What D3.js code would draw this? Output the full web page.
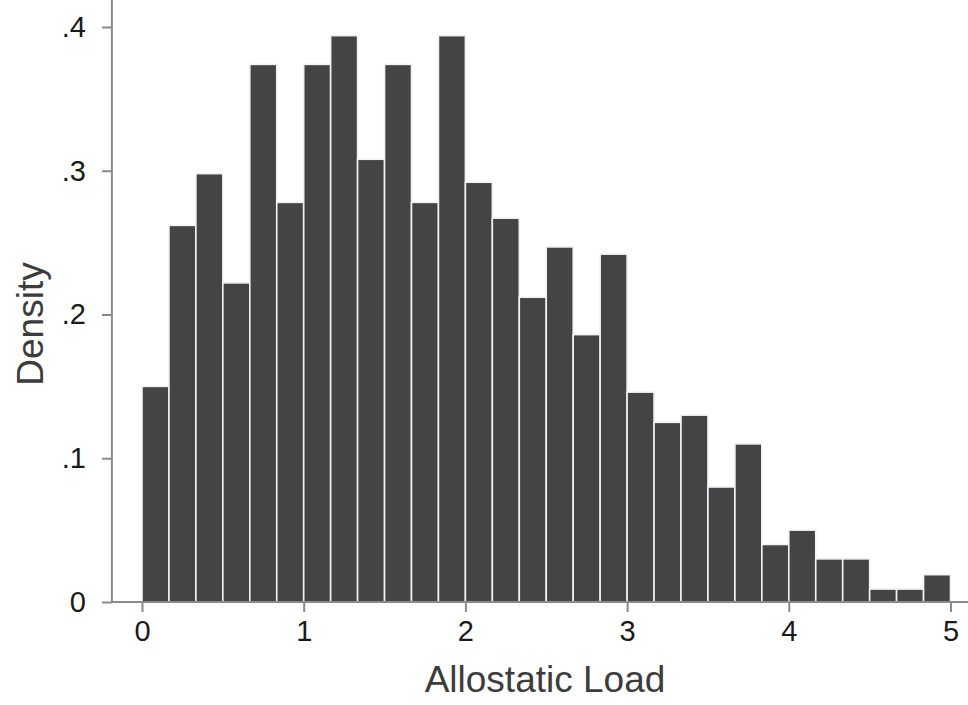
<!DOCTYPE html>
<html>
<head>
<meta charset="utf-8">
<script src="https://cdn.jsdelivr.net/npm/d3@7"></script>
<style>
  body { margin: 0; background: #fff; }
  text { font-family: "Liberation Sans", Arial, sans-serif; }
</style>
</head>
<body>
<div id="chart"></div>
<script>
// Histogram bins: 30 bins of width 1/6 from 0 to 5
let binStart = 0
let binWidth = 1 / 6
let densities = [0.150, 0.262, 0.298, 0.222, 0.374, 0.278, 0.374, 0.394, 0.308, 0.374,
                 0.278, 0.394, 0.292, 0.267, 0.212, 0.247, 0.186, 0.242, 0.146, 0.125,
                 0.130, 0.080, 0.110, 0.040, 0.050, 0.030, 0.030, 0.009, 0.009, 0.019]
let xTicks = [0, 1, 2, 3, 4, 5]
let yTicks = [0, 0.1, 0.2, 0.3, 0.4]
let yTickLabels = ["0", ".1", ".2", ".3", ".4"]

let width = 968
let height = 705

const svg = d3.select("#chart")
            .append("svg")
            .attr("width", width)
            .attr("height", height)

// Scales
let x = d3.scaleLinear().domain([0, 5]).range([142, 950.5])
let y = d3.scaleLinear().domain([0, 0.4]).range([602, 27])

let bins = densities.map((d, i) => ({x0: binStart + i * binWidth, x1: binStart + (i + 1) * binWidth, v: d}))

// Bars
svg.append("g")
   .selectAll("rect")
   .data(bins)
   .enter()
   .append("rect")
   .attr("x", d => x(d.x0))
   .attr("y", d => y(d.v))
   .attr("width", d => x(d.x1) - x(d.x0))
   .attr("height", d => y(0) - y(d.v))
   .attr("fill", "#444446")
   .attr("stroke", "#f2f2f2")
   .attr("stroke-width", 1.6)

let axisColor = "#8a8a8a"

// X axis
const xAxis = d3.axisBottom(x).tickValues(xTicks).tickSize(10).tickPadding(8).tickFormat(d3.format("d"))
let gx = svg.append("g")
   .attr("transform", `translate(0,${y(0)})`)
   .call(xAxis)
gx.select(".domain").remove()
gx.selectAll(".tick line").attr("stroke", axisColor).attr("stroke-width", 2)
gx.selectAll(".tick text").attr("fill", "#1a1a1a").style("font-size", "29px")
gx.append("line")
  .attr("x1", x(-0.186)).attr("x2", x(5.12))
  .attr("stroke", axisColor).attr("stroke-width", 2)

// Y axis
const yAxis = d3.axisLeft(y).tickValues(yTicks).tickSize(10).tickPadding(16).tickFormat((d, i) => yTickLabels[i])
let gy = svg.append("g")
   .attr("transform", `translate(${x(-0.186)},0)`)
   .call(yAxis)
gy.select(".domain").remove()
gy.selectAll(".tick line").attr("stroke", axisColor).attr("stroke-width", 2)
gy.selectAll(".tick text").attr("fill", "#1a1a1a").style("font-size", "29px")
gy.append("line")
  .attr("y1", y(0)).attr("y2", y(0.4296))
  .attr("stroke", axisColor).attr("stroke-width", 2)

// Axis titles
svg.append("text")
   .attr("x", 545)
   .attr("y", 692)
   .attr("text-anchor", "middle")
   .attr("fill", "#3c3c3c")
   .style("font-size", "37px")
   .text("Allostatic Load")

svg.append("text")
   .attr("transform", "translate(43,324) rotate(-90)")
   .attr("text-anchor", "middle")
   .attr("fill", "#3c3c3c")
   .style("font-size", "37px")
   .text("Density")
</script>
</body>
</html>
